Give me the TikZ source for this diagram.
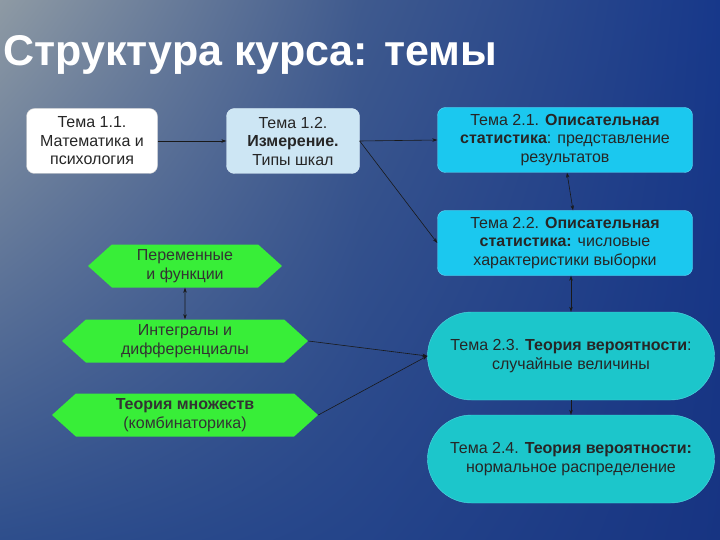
\documentclass[tikz,border=0pt]{standalone}
\usepackage{fontspec}
\setmainfont{Liberation Sans}
\usetikzlibrary{shapes.symbols,arrows.meta,shadings}
\definecolor{bgTL}{HTML}{8E9AA4}
\definecolor{bgTM}{HTML}{3F5A8E}
\definecolor{bgTR}{HTML}{17388A}
\definecolor{bgBL}{HTML}{2E4E8C}
\definecolor{bgBM}{HTML}{24448A}
\definecolor{bgBR}{HTML}{173482}
\definecolor{paleBlue}{HTML}{CDE6F4}
\definecolor{cyanBox}{HTML}{1BC8EF}
\definecolor{cyanEdge}{HTML}{62DAF5}
\definecolor{tealPill}{HTML}{1CC6CB}
\definecolor{tealEdge}{HTML}{52DCE2}
\definecolor{hexGreen}{HTML}{38EE38}
\begin{document}
\begin{tikzpicture}[x=1pt,y=-1pt,
    topic/.style={rounded corners=8pt, align=center, text=black!85,
      font=\fontsize{16}{18.5}\selectfont, minimum height=65pt},
    pill/.style={topic, rounded corners=44pt, minimum height=88pt,
      minimum width=287pt, fill=tealPill, draw=tealEdge},
    hex/.style={signal, signal to=east and west, signal pointer angle=84,
      fill=hexGreen, align=center, text=black!80, inner sep=1pt,
      font=\fontsize{16}{18.5}\selectfont, minimum height=43pt},
    link/.style={-{Stealth[length=5pt,width=3.5pt]}, black!90, line width=0.6pt},
    dlink/.style={link, {Stealth[length=5pt,width=3.5pt]}-{Stealth[length=5pt,width=3.5pt]}}]
  % background
  \shade[upper left=bgTL, upper right=bgTM, lower left=bgBL, lower right=bgBM]
    (0,0) rectangle (360,540);
  \shade[upper left=bgTM, upper right=bgTR, lower left=bgBM, lower right=bgBR]
    (360,0) rectangle (720,540);
  \useasboundingbox (0,0) rectangle (720,540);
  \node[anchor=base west, text=white, font=\fontsize{43}{50}\selectfont\bfseries]
    (title) at (0,66) {Структура курса: темы};
  % topics
  \node[topic, fill=white, draw=gray!40, minimum width=131pt] (t11) at (92,141)
    {Тема 1.1.\\Математика и\\психология};
  \node[topic, fill=paleBlue, draw=paleBlue!70!white, minimum width=133pt] (t12) at (293,141)
    {Тема 1.2.\\\textbf{Измерение.}\\Типы шкал};
  \node[topic, fill=cyanBox, draw=cyanEdge, minimum width=255pt] (t21) at (565,140)
    {Тема 2.1. \textbf{Описательная}\\\textbf{статистика}: представление\\результатов};
  \node[topic, fill=cyanBox, draw=cyanEdge, minimum width=255pt] (t22) at (565,243)
    {Тема 2.2. \textbf{Описательная}\\\textbf{статистика:} числовые\\характеристики выборки};
  \node[pill] (t23) at (571,356)
    {Тема 2.3. \textbf{Теория вероятности}:\\случайные величины};
  \node[pill] (t24) at (571,459)
    {Тема 2.4. \textbf{Теория вероятности:}\\нормальное распределение};
  % maths
  \node[hex, minimum width=194pt] (var) at (185,266) {Переменные\\и функции};
  \node[hex, minimum width=246pt] (int) at (185,341) {Интегралы и\\дифференциалы};
  \node[hex, minimum width=266pt] (set) at (185,415)
    {\textbf{Теория множеств}\\(комбинаторика)};
  % links
  \draw[link] (t11) -- (t12);
  \draw[link] (t12.east) -- (t21.west);
  \draw[link] (t12.east) -- (t22.west);
  \draw[dlink] ([xshift=2pt]t21.south) -- ([xshift=8pt]t22.north);
  \draw[dlink] ([xshift=6pt]t22.south) -- (t23.north);
  \draw[link] (t23) -- (t24);
  \draw[dlink] (var) -- (int);
  \draw[link] (int.east) -- (t23.west);
  \draw[link] (set.east) -- (t23.west);
\end{tikzpicture}
\end{document}
